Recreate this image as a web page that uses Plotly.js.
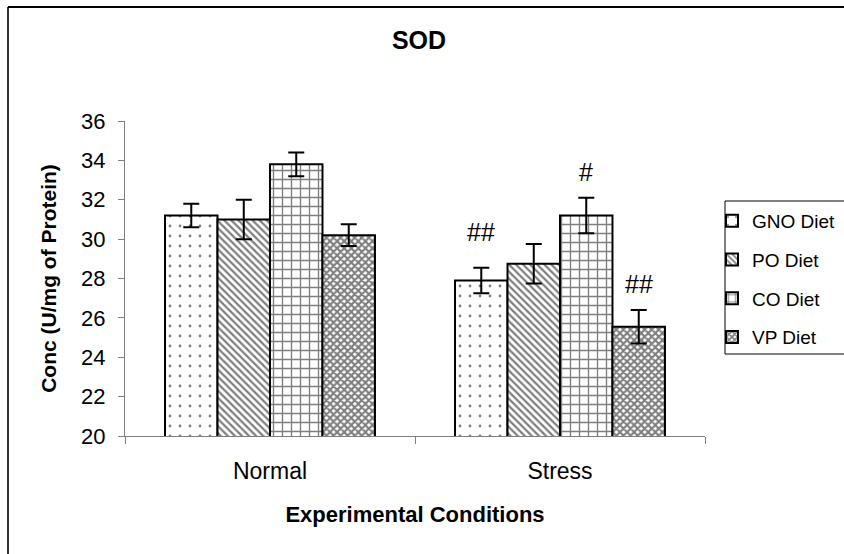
<!DOCTYPE html>
<html>
<head>
<meta charset="utf-8">
<script src="https://cdn.plot.ly/plotly-3.0.1.min.js"></script>
<style>
html,body{margin:0;padding:0;background:#fff;}
#chart{width:844px;height:554px;}
</style>
</head>
<body>
<div id="chart"></div>
<script>
// ---- data ----
const categories = ["Normal", "Stress"];
const seriesNames = ["GNO Diet", "PO Diet", "CO Diet", "VP Diet"];
const gnoValues = [31.2, 27.9];
const poValues  = [31.0, 28.75];
const coValues  = [33.8, 31.2];
const vpValues  = [30.2, 25.55];
const gnoErr = [0.6, 0.65];
const poErr  = [1.0, 1.0];
const coErr  = [0.6, 0.9];
const vpErr  = [0.55, 0.85];
const gnoMarks = ["", "##"];
const poMarks  = ["", ""];
const coMarks  = ["", "#"];
const vpMarks  = ["", "##"];
const yTickVals = [20, 22, 24, 26, 28, 30, 32, 34, 36];

// ---- styling ----
const W = 844, H = 554;
const M = {l: 125, r: 139, t: 121, b: 118, autoexpand: false};
const pw = W - M.l - M.r, ph = H - M.t - M.b;
const px2x = p => (p - M.l) / pw;
const px2y = p => (H - M.b - p) / ph;
const FONT = "Liberation Sans, Arial, sans-serif";

const values = [gnoValues, poValues, coValues, vpValues];
const errs = [gnoErr, poErr, coErr, vpErr];
const marks = [gnoMarks, poMarks, coMarks, vpMarks];
const patterns = [
  {shape: ".", size: 10, solidity: 0.06},
  {shape: "\\", size: 5, solidity: 0.45},
  {shape: "+", size: 9, solidity: 0.28},
  {shape: "x", size: 5, solidity: 0.65}
];
const markShift = [20, 12, 10, 10];

const bargap = 0.276;
const barW = (1 - bargap) / seriesNames.length;

const traces = seriesNames.map((name, i) => ({
  type: "bar",
  name: name,
  x: categories,
  y: values[i],
  legendgroup: "g" + i,
  marker: {
    color: "white",
    line: {color: "black", width: 2},
    pattern: Object.assign({fgcolor: "black", bgcolor: "white", fillmode: "overlay"}, patterns[i])
  },
  error_y: {type: "data", array: errs[i], visible: true, color: "black", thickness: 2, width: 8}
}));

const annotations = [];
seriesNames.forEach((name, i) => {
  categories.forEach((c, j) => {
    if (marks[i][j]) {
      const off = -0.5 + bargap / 2 + barW * (i + 0.5);
      annotations.push({
        xref: "x", yref: "y",
        x: j + off, y: values[i][j] + errs[i][j],
        text: marks[i][j], showarrow: false,
        yanchor: "bottom", yshift: markShift[i],
        font: {family: FONT, size: 25, color: "black"}
      });
    }
  });
});

const layout = {
  width: W, height: H,
  margin: M,
  paper_bgcolor: "white",
  plot_bgcolor: "white",
  barmode: "group",
  bargap: bargap,
  bargroupgap: 0,
  showlegend: true,
  font: {family: FONT, color: "black"},
  title: {
    text: "<b>SOD</b>",
    font: {family: FONT, size: 25, color: "black"},
    x: px2x(419), xref: "paper", xanchor: "center",
    y: 1 - 40 / H, yref: "container", yanchor: "middle"
  },
  xaxis: {
    type: "category",
    automargin: false,
    tickson: "boundaries",
    ticks: "outside", ticklen: 7, tickcolor: "#808080", tickwidth: 1,
    showline: true, linecolor: "#808080", linewidth: 1,
    showgrid: false, zeroline: false,
    tickfont: {size: 23, color: "black"},
    ticklabelstandoff: 14,
    title: {text: "<b>Experimental Conditions</b>", font: {size: 22, color: "black"}, standoff: 24}
  },
  yaxis: {
    range: [20, 36],
    automargin: false,
    tickvals: yTickVals,
    ticks: "outside", ticklen: 6, tickcolor: "#808080", tickwidth: 1,
    showline: true, linecolor: "#808080", linewidth: 1,
    showgrid: false, zeroline: false,
    tickfont: {size: 22, color: "black"},
    ticklabelstandoff: 8,
    title: {text: "<b>Conc (U/mg of Protein)</b>", font: {size: 21, color: "black"}, standoff: 18}
  },
  legend: {
    x: px2x(712), xanchor: "left",
    y: px2y(202), yanchor: "top",
    borderwidth: 0,
    bgcolor: "rgba(0,0,0,0)",
    font: {size: 19, color: "black"},
    tracegroupgap: 11,
    itemwidth: 30
  },
  annotations: annotations,
  shapes: [
    {type: "line", xref: "paper", yref: "paper", x0: px2x(8), x1: px2x(8), y0: px2y(7), y1: px2y(560), line: {color: "#333", width: 2}},
    {type: "line", xref: "paper", yref: "paper", x0: px2x(8), x1: px2x(850), y0: px2y(7), y1: px2y(7), line: {color: "#000", width: 2}},
    {type: "rect", xref: "paper", yref: "paper", x0: px2x(725), x1: px2x(860), y0: px2y(201), y1: px2y(354), line: {color: "#000", width: 1}, fillcolor: "rgba(0,0,0,0)"}
  ]
};

Plotly.newPlot("chart", traces, layout, {displayModeBar: false, staticPlot: true});
</script>
</body>
</html>
